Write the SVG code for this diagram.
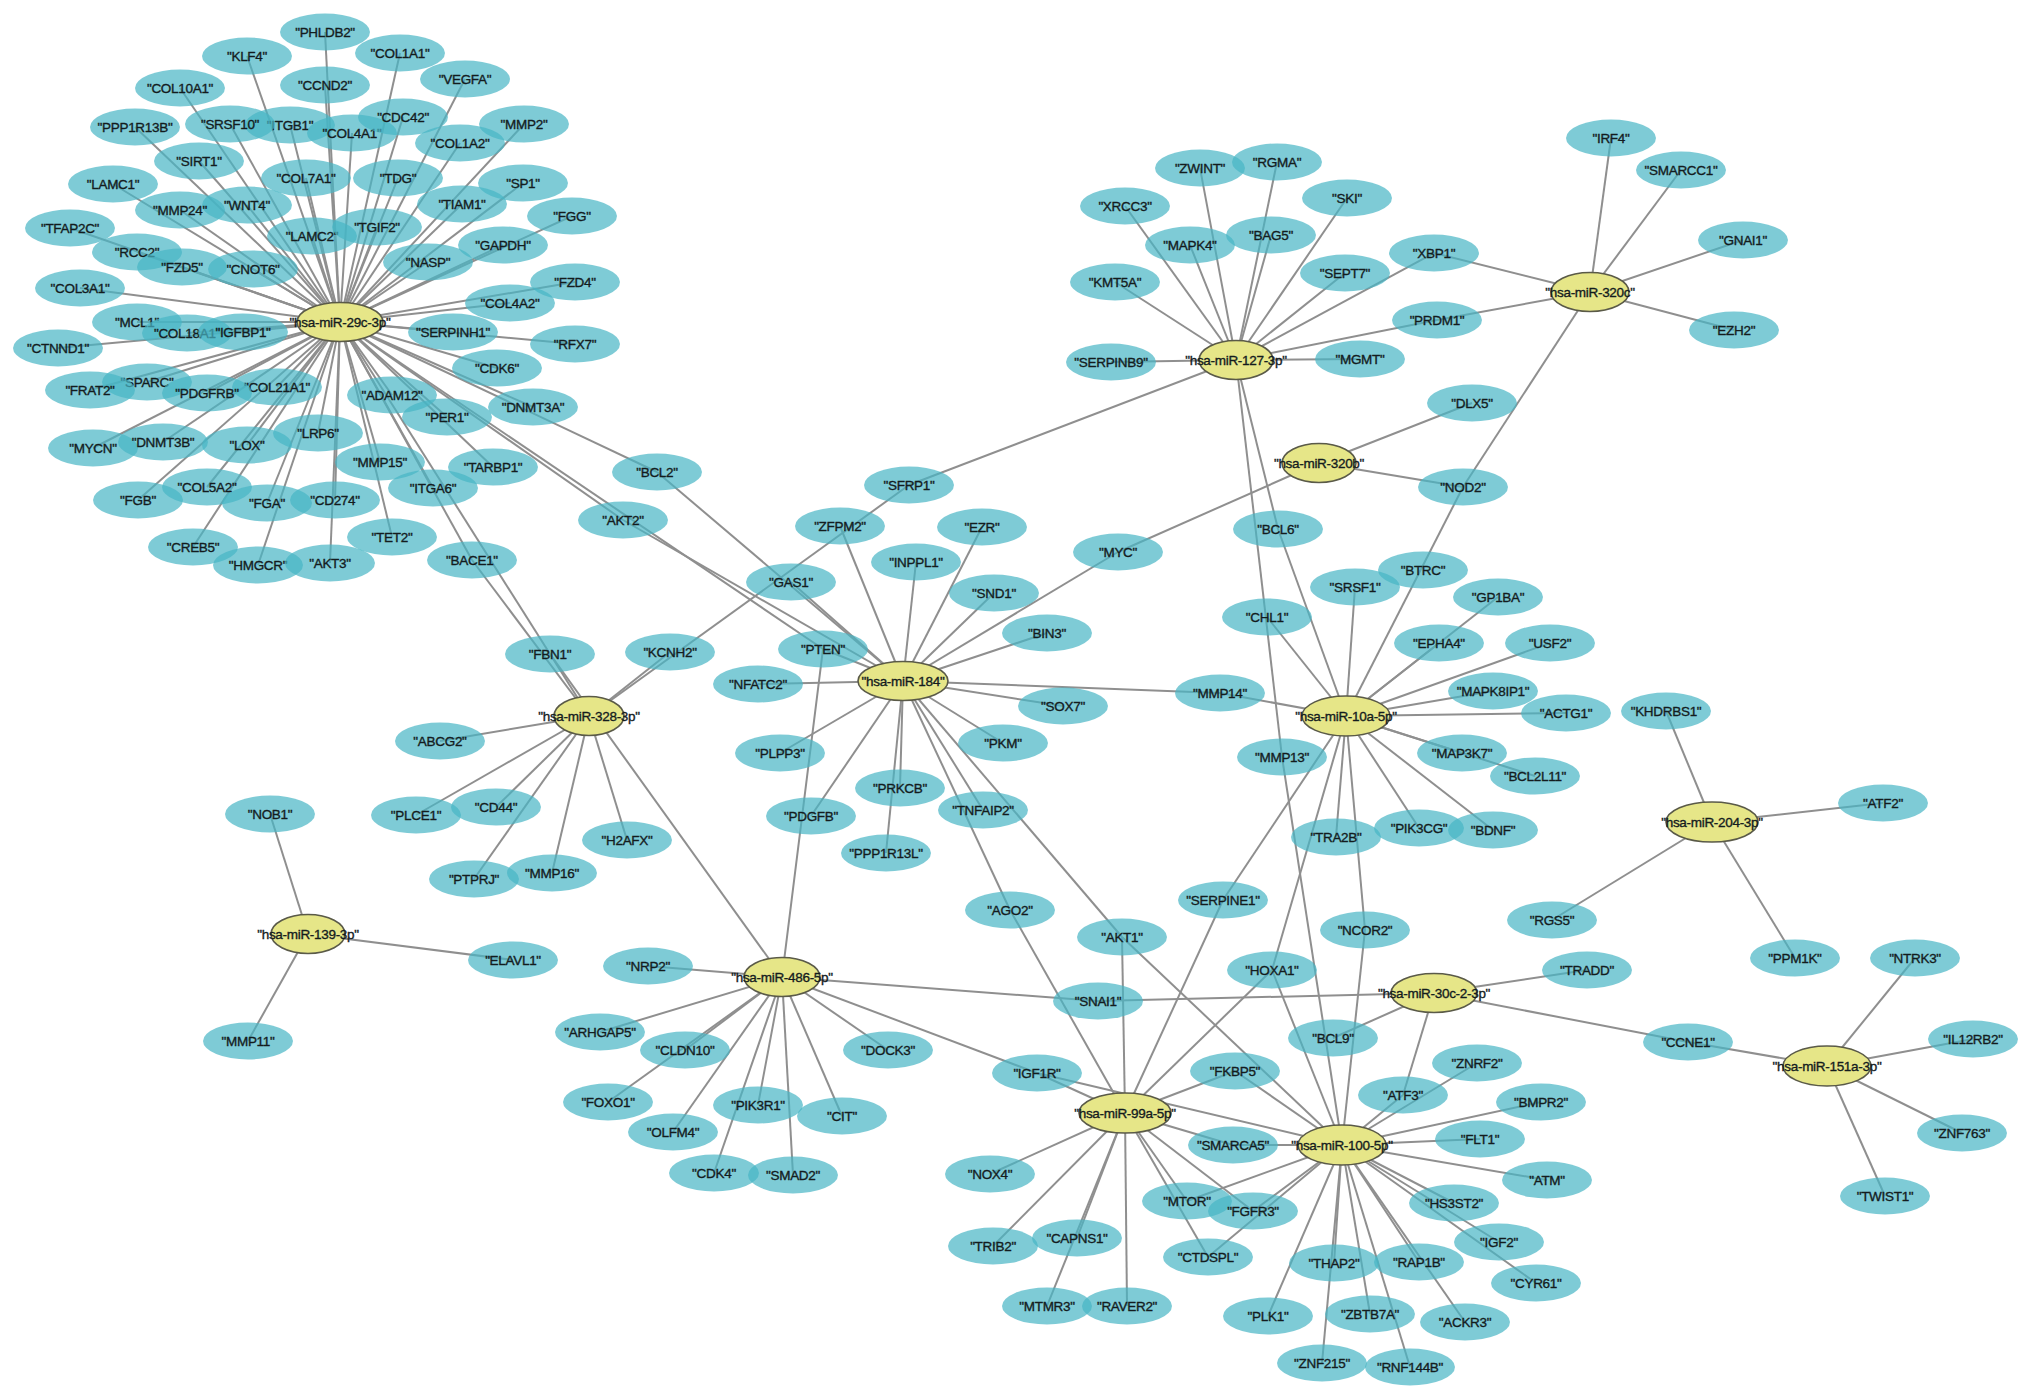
<svg xmlns="http://www.w3.org/2000/svg" width="2032" height="1400" viewBox="0 0 2032 1400">
<style>
.e line{stroke:#8f8f8f;stroke-width:2}
.g ellipse{fill:#47B5C4;fill-opacity:0.7}
.m ellipse{fill:#E6E688;stroke:#5a5a48;stroke-width:1.6}
text{font-family:"Liberation Sans",Arial,sans-serif;font-size:13.5px;fill:#141c1e;stroke:#141c1e;stroke-width:0.35;text-anchor:middle;letter-spacing:-0.3px}
</style>
<rect width="2032" height="1400" fill="#fff"/>
<g id="edges" class="e">
<!-- miR-29c-3p -->
<line x1="340" y1="322" x2="325" y2="32"/><line x1="340" y1="322" x2="247" y2="56"/><line x1="340" y1="322" x2="400" y2="53"/><line x1="340" y1="322" x2="465" y2="79"/><line x1="340" y1="322" x2="325" y2="85"/><line x1="340" y1="322" x2="180" y2="88"/><line x1="340" y1="322" x2="135" y2="127"/><line x1="340" y1="322" x2="230" y2="124"/><line x1="340" y1="322" x2="290" y2="125"/><line x1="340" y1="322" x2="352" y2="133"/><line x1="340" y1="322" x2="403" y2="117"/><line x1="340" y1="322" x2="524" y2="124"/><line x1="340" y1="322" x2="460" y2="143"/><line x1="340" y1="322" x2="199" y2="161"/><line x1="340" y1="322" x2="113" y2="184"/><line x1="340" y1="322" x2="306" y2="178"/><line x1="340" y1="322" x2="398" y2="178"/><line x1="340" y1="322" x2="523" y2="183"/><line x1="340" y1="322" x2="180" y2="210"/><line x1="340" y1="322" x2="247" y2="205"/><line x1="340" y1="322" x2="462" y2="204"/><line x1="340" y1="322" x2="572" y2="216"/><line x1="340" y1="322" x2="70" y2="228"/><line x1="340" y1="322" x2="312" y2="236"/><line x1="340" y1="322" x2="377" y2="227"/><line x1="340" y1="322" x2="503" y2="245"/><line x1="340" y1="322" x2="137" y2="252"/><line x1="340" y1="322" x2="182" y2="267"/><line x1="340" y1="322" x2="253" y2="269"/><line x1="340" y1="322" x2="428" y2="262"/><line x1="340" y1="322" x2="575" y2="282"/><line x1="340" y1="322" x2="80" y2="288"/><line x1="340" y1="322" x2="510" y2="303"/><line x1="340" y1="322" x2="137" y2="322"/><line x1="340" y1="322" x2="187" y2="333"/><line x1="340" y1="322" x2="243" y2="332"/><line x1="340" y1="322" x2="453" y2="332"/><line x1="340" y1="322" x2="58" y2="348"/><line x1="340" y1="322" x2="575" y2="344"/><line x1="340" y1="322" x2="497" y2="368"/><line x1="340" y1="322" x2="90" y2="390"/><line x1="340" y1="322" x2="147" y2="382"/><line x1="340" y1="322" x2="207" y2="393"/><line x1="340" y1="322" x2="277" y2="387"/><line x1="340" y1="322" x2="392" y2="395"/><line x1="340" y1="322" x2="533" y2="407"/><line x1="340" y1="322" x2="447" y2="417"/><line x1="340" y1="322" x2="318" y2="433"/><line x1="340" y1="322" x2="93" y2="448"/><line x1="340" y1="322" x2="163" y2="442"/><line x1="340" y1="322" x2="247" y2="445"/><line x1="340" y1="322" x2="380" y2="462"/><line x1="340" y1="322" x2="493" y2="467"/><line x1="340" y1="322" x2="433" y2="488"/><line x1="340" y1="322" x2="335" y2="500"/><line x1="340" y1="322" x2="207" y2="487"/><line x1="340" y1="322" x2="138" y2="500"/><line x1="340" y1="322" x2="267" y2="503"/><line x1="340" y1="322" x2="392" y2="537"/><line x1="340" y1="322" x2="193" y2="547"/><line x1="340" y1="322" x2="258" y2="565"/><line x1="340" y1="322" x2="330" y2="563"/><line x1="340" y1="322" x2="472" y2="560"/><line x1="340" y1="322" x2="657" y2="472"/><line x1="340" y1="322" x2="623" y2="520"/><line x1="340" y1="322" x2="823" y2="649"/><line x1="340" y1="322" x2="550" y2="654"/>
<!-- miR-184 -->
<line x1="903" y1="681" x2="840" y2="526"/><line x1="903" y1="681" x2="982" y2="527"/><line x1="903" y1="681" x2="916" y2="562"/><line x1="903" y1="681" x2="994" y2="593"/><line x1="903" y1="681" x2="1118" y2="552"/><line x1="903" y1="681" x2="1047" y2="633"/><line x1="903" y1="681" x2="823" y2="649"/><line x1="903" y1="681" x2="758" y2="684"/><line x1="903" y1="681" x2="1063" y2="706"/><line x1="903" y1="681" x2="1003" y2="743"/><line x1="903" y1="681" x2="780" y2="753"/><line x1="903" y1="681" x2="900" y2="788"/><line x1="903" y1="681" x2="983" y2="810"/><line x1="903" y1="681" x2="811" y2="816"/><line x1="903" y1="681" x2="886" y2="853"/><line x1="903" y1="681" x2="657" y2="472"/><line x1="903" y1="681" x2="623" y2="520"/><line x1="903" y1="681" x2="1220" y2="693"/><line x1="903" y1="681" x2="1010" y2="910"/><line x1="903" y1="681" x2="1122" y2="937"/><line x1="903" y1="681" x2="791" y2="582"/>
<!-- miR-127-3p -->
<line x1="1236" y1="360" x2="1200" y2="168"/><line x1="1236" y1="360" x2="1277" y2="162"/><line x1="1236" y1="360" x2="1125" y2="206"/><line x1="1236" y1="360" x2="1347" y2="198"/><line x1="1236" y1="360" x2="1190" y2="245"/><line x1="1236" y1="360" x2="1271" y2="235"/><line x1="1236" y1="360" x2="1434" y2="253"/><line x1="1236" y1="360" x2="1345" y2="273"/><line x1="1236" y1="360" x2="1115" y2="282"/><line x1="1236" y1="360" x2="1437" y2="320"/><line x1="1236" y1="360" x2="1111" y2="362"/><line x1="1236" y1="360" x2="1360" y2="359"/><line x1="1236" y1="360" x2="909" y2="485"/><line x1="1236" y1="360" x2="1278" y2="529"/><line x1="1236" y1="360" x2="1282" y2="757"/>
<!-- miR-320c -->
<line x1="1590" y1="292" x2="1611" y2="138"/><line x1="1590" y1="292" x2="1681" y2="170"/><line x1="1590" y1="292" x2="1743" y2="240"/><line x1="1590" y1="292" x2="1734" y2="330"/><line x1="1590" y1="292" x2="1434" y2="253"/><line x1="1590" y1="292" x2="1437" y2="320"/><line x1="1590" y1="292" x2="1463" y2="487"/>
<!-- miR-320b -->
<line x1="1319" y1="463" x2="1472" y2="403"/><line x1="1319" y1="463" x2="1463" y2="487"/><line x1="1319" y1="463" x2="1118" y2="552"/>
<!-- miR-10a-5p -->
<line x1="1346" y1="716" x2="1278" y2="529"/><line x1="1346" y1="716" x2="1463" y2="487"/><line x1="1346" y1="716" x2="1355" y2="587"/><line x1="1346" y1="716" x2="1267" y2="617"/><line x1="1346" y1="716" x2="1498" y2="597"/><line x1="1346" y1="716" x2="1439" y2="643"/><line x1="1346" y1="716" x2="1550" y2="643"/><line x1="1346" y1="716" x2="1493" y2="691"/><line x1="1346" y1="716" x2="1566" y2="713"/><line x1="1346" y1="716" x2="1462" y2="753"/><line x1="1346" y1="716" x2="1535" y2="776"/><line x1="1346" y1="716" x2="1493" y2="830"/><line x1="1346" y1="716" x2="1419" y2="828"/><line x1="1346" y1="716" x2="1336" y2="837"/><line x1="1346" y1="716" x2="1365" y2="930"/><line x1="1346" y1="716" x2="1223" y2="900"/><line x1="1346" y1="716" x2="1272" y2="970"/><line x1="1346" y1="716" x2="1220" y2="693"/>
<!-- miR-328-3p -->
<line x1="589" y1="716" x2="670" y2="652"/><line x1="589" y1="716" x2="909" y2="485"/><line x1="589" y1="716" x2="440" y2="741"/><line x1="589" y1="716" x2="416" y2="815"/><line x1="589" y1="716" x2="496" y2="807"/><line x1="589" y1="716" x2="474" y2="879"/><line x1="589" y1="716" x2="552" y2="873"/><line x1="589" y1="716" x2="627" y2="840"/><line x1="589" y1="716" x2="472" y2="560"/><line x1="589" y1="716" x2="550" y2="654"/>
<!-- miR-139-3p -->
<line x1="308" y1="934" x2="270" y2="814"/><line x1="308" y1="934" x2="513" y2="960"/><line x1="308" y1="934" x2="248" y2="1041"/>
<!-- miR-486-5p -->
<line x1="782" y1="977" x2="550" y2="654"/><line x1="782" y1="977" x2="823" y2="649"/><line x1="782" y1="977" x2="648" y2="966"/><line x1="782" y1="977" x2="600" y2="1032"/><line x1="782" y1="977" x2="685" y2="1050"/><line x1="782" y1="977" x2="608" y2="1102"/><line x1="782" y1="977" x2="673" y2="1132"/><line x1="782" y1="977" x2="758" y2="1105"/><line x1="782" y1="977" x2="714" y2="1173"/><line x1="782" y1="977" x2="793" y2="1175"/><line x1="782" y1="977" x2="842" y2="1116"/><line x1="782" y1="977" x2="888" y2="1050"/><line x1="782" y1="977" x2="1037" y2="1073"/><line x1="782" y1="977" x2="1098" y2="1001"/>
<!-- miR-99a-5p -->
<line x1="1125" y1="1113" x2="1010" y2="910"/><line x1="1125" y1="1113" x2="1122" y2="937"/><line x1="1125" y1="1113" x2="1223" y2="900"/><line x1="1125" y1="1113" x2="1272" y2="970"/><line x1="1125" y1="1113" x2="1037" y2="1073"/><line x1="1125" y1="1113" x2="1235" y2="1071"/><line x1="1125" y1="1113" x2="1233" y2="1145"/><line x1="1125" y1="1113" x2="990" y2="1174"/><line x1="1125" y1="1113" x2="993" y2="1246"/><line x1="1125" y1="1113" x2="1077" y2="1238"/><line x1="1125" y1="1113" x2="1047" y2="1306"/><line x1="1125" y1="1113" x2="1127" y2="1306"/><line x1="1125" y1="1113" x2="1187" y2="1201"/><line x1="1125" y1="1113" x2="1208" y2="1257"/><line x1="1125" y1="1113" x2="1253" y2="1211"/>
<!-- miR-100-5p -->
<line x1="1342" y1="1145" x2="1122" y2="937"/><line x1="1342" y1="1145" x2="1282" y2="757"/><line x1="1342" y1="1145" x2="1272" y2="970"/><line x1="1342" y1="1145" x2="1365" y2="930"/><line x1="1342" y1="1145" x2="1037" y2="1073"/><line x1="1342" y1="1145" x2="1235" y2="1071"/><line x1="1342" y1="1145" x2="1233" y2="1145"/><line x1="1342" y1="1145" x2="1187" y2="1201"/><line x1="1342" y1="1145" x2="1253" y2="1211"/><line x1="1342" y1="1145" x2="1208" y2="1257"/><line x1="1342" y1="1145" x2="1268" y2="1316"/><line x1="1342" y1="1145" x2="1334" y2="1263"/><line x1="1342" y1="1145" x2="1322" y2="1363"/><line x1="1342" y1="1145" x2="1370" y2="1314"/><line x1="1342" y1="1145" x2="1410" y2="1367"/><line x1="1342" y1="1145" x2="1419" y2="1262"/><line x1="1342" y1="1145" x2="1465" y2="1322"/><line x1="1342" y1="1145" x2="1536" y2="1283"/><line x1="1342" y1="1145" x2="1499" y2="1242"/><line x1="1342" y1="1145" x2="1454" y2="1203"/><line x1="1342" y1="1145" x2="1547" y2="1180"/><line x1="1342" y1="1145" x2="1480" y2="1139"/><line x1="1342" y1="1145" x2="1541" y2="1102"/><line x1="1342" y1="1145" x2="1403" y2="1095"/><line x1="1342" y1="1145" x2="1477" y2="1063"/>
<!-- miR-30c-2-3p -->
<line x1="1434" y1="993" x2="1098" y2="1001"/><line x1="1434" y1="993" x2="1333" y2="1038"/><line x1="1434" y1="993" x2="1403" y2="1095"/><line x1="1434" y1="993" x2="1587" y2="970"/><line x1="1434" y1="993" x2="1688" y2="1042"/>
<!-- miR-204-3p -->
<line x1="1712" y1="822" x2="1666" y2="711"/><line x1="1712" y1="822" x2="1883" y2="803"/><line x1="1712" y1="822" x2="1552" y2="920"/><line x1="1712" y1="822" x2="1795" y2="958"/>
<!-- miR-151a-3p -->
<line x1="1827" y1="1066" x2="1688" y2="1042"/><line x1="1827" y1="1066" x2="1915" y2="958"/><line x1="1827" y1="1066" x2="1973" y2="1039"/><line x1="1827" y1="1066" x2="1962" y2="1133"/><line x1="1827" y1="1066" x2="1885" y2="1196"/>
</g>
<g id="genes" class="g">
<g id="PHLDB2"><ellipse cx="325" cy="32" rx="45" ry="18.5"/><text x="325" y="37">"PHLDB2"</text></g>
<g id="KLF4"><ellipse cx="247" cy="56" rx="45" ry="18.5"/><text x="247" y="61">"KLF4"</text></g>
<g id="COL1A1"><ellipse cx="400" cy="53" rx="45" ry="18.5"/><text x="400" y="58">"COL1A1"</text></g>
<g id="VEGFA"><ellipse cx="465" cy="79" rx="45" ry="18.5"/><text x="465" y="84">"VEGFA"</text></g>
<g id="CCND2"><ellipse cx="325" cy="85" rx="45" ry="18.5"/><text x="325" y="90">"CCND2"</text></g>
<g id="COL10A1"><ellipse cx="180" cy="88" rx="45" ry="18.5"/><text x="180" y="93">"COL10A1"</text></g>
<g id="PPP1R13B"><ellipse cx="135" cy="127" rx="45" ry="18.5"/><text x="135" y="132">"PPP1R13B"</text></g>
<g id="ITGB1"><ellipse cx="290" cy="125" rx="45" ry="18.5"/><text x="290" y="130">"ITGB1"</text></g>
<g id="SRSF10"><ellipse cx="230" cy="124" rx="45" ry="18.5"/><text x="230" y="129">"SRSF10"</text></g>
<g id="COL4A1"><ellipse cx="352" cy="133" rx="45" ry="18.5"/><text x="352" y="138">"COL4A1"</text></g>
<g id="CDC42"><ellipse cx="403" cy="117" rx="45" ry="18.5"/><text x="403" y="122">"CDC42"</text></g>
<g id="MMP2"><ellipse cx="524" cy="124" rx="45" ry="18.5"/><text x="524" y="129">"MMP2"</text></g>
<g id="COL1A2"><ellipse cx="460" cy="143" rx="45" ry="18.5"/><text x="460" y="148">"COL1A2"</text></g>
<g id="SIRT1"><ellipse cx="199" cy="161" rx="45" ry="18.5"/><text x="199" y="166">"SIRT1"</text></g>
<g id="LAMC1"><ellipse cx="113" cy="184" rx="45" ry="18.5"/><text x="113" y="189">"LAMC1"</text></g>
<g id="COL7A1"><ellipse cx="306" cy="178" rx="45" ry="18.5"/><text x="306" y="183">"COL7A1"</text></g>
<g id="TDG"><ellipse cx="398" cy="178" rx="45" ry="18.5"/><text x="398" y="183">"TDG"</text></g>
<g id="SP1"><ellipse cx="523" cy="183" rx="45" ry="18.5"/><text x="523" y="188">"SP1"</text></g>
<g id="WNT4"><ellipse cx="247" cy="205" rx="45" ry="18.5"/><text x="247" y="210">"WNT4"</text></g>
<g id="MMP24"><ellipse cx="180" cy="210" rx="45" ry="18.5"/><text x="180" y="215">"MMP24"</text></g>
<g id="TIAM1"><ellipse cx="462" cy="204" rx="45" ry="18.5"/><text x="462" y="209">"TIAM1"</text></g>
<g id="FGG"><ellipse cx="572" cy="216" rx="45" ry="18.5"/><text x="572" y="221">"FGG"</text></g>
<g id="TFAP2C"><ellipse cx="70" cy="228" rx="45" ry="18.5"/><text x="70" y="233">"TFAP2C"</text></g>
<g id="LAMC2"><ellipse cx="312" cy="236" rx="45" ry="18.5"/><text x="312" y="241">"LAMC2"</text></g>
<g id="TGIF2"><ellipse cx="377" cy="227" rx="45" ry="18.5"/><text x="377" y="232">"TGIF2"</text></g>
<g id="GAPDH"><ellipse cx="503" cy="245" rx="45" ry="18.5"/><text x="503" y="250">"GAPDH"</text></g>
<g id="RCC2"><ellipse cx="137" cy="252" rx="45" ry="18.5"/><text x="137" y="257">"RCC2"</text></g>
<g id="CNOT6"><ellipse cx="253" cy="269" rx="45" ry="18.5"/><text x="253" y="274">"CNOT6"</text></g>
<g id="FZD5"><ellipse cx="182" cy="267" rx="45" ry="18.5"/><text x="182" y="272">"FZD5"</text></g>
<g id="NASP"><ellipse cx="428" cy="262" rx="45" ry="18.5"/><text x="428" y="267">"NASP"</text></g>
<g id="FZD4"><ellipse cx="575" cy="282" rx="45" ry="18.5"/><text x="575" y="287">"FZD4"</text></g>
<g id="COL3A1"><ellipse cx="80" cy="288" rx="45" ry="18.5"/><text x="80" y="293">"COL3A1"</text></g>
<g id="COL4A2"><ellipse cx="510" cy="303" rx="45" ry="18.5"/><text x="510" y="308">"COL4A2"</text></g>
<g id="MCL1"><ellipse cx="137" cy="322" rx="45" ry="18.5"/><text x="137" y="327">"MCL1"</text></g>
<g id="COL18A1"><ellipse cx="187" cy="333" rx="45" ry="18.5"/><text x="187" y="338">"COL18A1"</text></g>
<g id="IGFBP1"><ellipse cx="243" cy="332" rx="45" ry="18.5"/><text x="243" y="337">"IGFBP1"</text></g>
<g id="SERPINH1"><ellipse cx="453" cy="332" rx="45" ry="18.5"/><text x="453" y="337">"SERPINH1"</text></g>
<g id="CTNND1"><ellipse cx="58" cy="348" rx="45" ry="18.5"/><text x="58" y="353">"CTNND1"</text></g>
<g id="RFX7"><ellipse cx="575" cy="344" rx="45" ry="18.5"/><text x="575" y="349">"RFX7"</text></g>
<g id="CDK6"><ellipse cx="497" cy="368" rx="45" ry="18.5"/><text x="497" y="373">"CDK6"</text></g>
<g id="SPARC"><ellipse cx="147" cy="382" rx="45" ry="18.5"/><text x="147" y="387">"SPARC"</text></g>
<g id="FRAT2"><ellipse cx="90" cy="390" rx="45" ry="18.5"/><text x="90" y="395">"FRAT2"</text></g>
<g id="COL21A1"><ellipse cx="277" cy="387" rx="45" ry="18.5"/><text x="277" y="392">"COL21A1"</text></g>
<g id="PDGFRB"><ellipse cx="207" cy="393" rx="45" ry="18.5"/><text x="207" y="398">"PDGFRB"</text></g>
<g id="ADAM12"><ellipse cx="392" cy="395" rx="45" ry="18.5"/><text x="392" y="400">"ADAM12"</text></g>
<g id="DNMT3A"><ellipse cx="533" cy="407" rx="45" ry="18.5"/><text x="533" y="412">"DNMT3A"</text></g>
<g id="PER1"><ellipse cx="447" cy="417" rx="45" ry="18.5"/><text x="447" y="422">"PER1"</text></g>
<g id="LRP6"><ellipse cx="318" cy="433" rx="45" ry="18.5"/><text x="318" y="438">"LRP6"</text></g>
<g id="MYCN"><ellipse cx="93" cy="448" rx="45" ry="18.5"/><text x="93" y="453">"MYCN"</text></g>
<g id="DNMT3B"><ellipse cx="163" cy="442" rx="45" ry="18.5"/><text x="163" y="447">"DNMT3B"</text></g>
<g id="LOX"><ellipse cx="247" cy="445" rx="45" ry="18.5"/><text x="247" y="450">"LOX"</text></g>
<g id="MMP15"><ellipse cx="380" cy="462" rx="45" ry="18.5"/><text x="380" y="467">"MMP15"</text></g>
<g id="TARBP1"><ellipse cx="493" cy="467" rx="45" ry="18.5"/><text x="493" y="472">"TARBP1"</text></g>
<g id="ITGA6"><ellipse cx="433" cy="488" rx="45" ry="18.5"/><text x="433" y="493">"ITGA6"</text></g>
<g id="COL5A2"><ellipse cx="207" cy="487" rx="45" ry="18.5"/><text x="207" y="492">"COL5A2"</text></g>
<g id="FGB"><ellipse cx="138" cy="500" rx="45" ry="18.5"/><text x="138" y="505">"FGB"</text></g>
<g id="CD274"><ellipse cx="335" cy="500" rx="45" ry="18.5"/><text x="335" y="505">"CD274"</text></g>
<g id="FGA"><ellipse cx="267" cy="503" rx="45" ry="18.5"/><text x="267" y="508">"FGA"</text></g>
<g id="TET2"><ellipse cx="392" cy="537" rx="45" ry="18.5"/><text x="392" y="542">"TET2"</text></g>
<g id="CREB5"><ellipse cx="193" cy="547" rx="45" ry="18.5"/><text x="193" y="552">"CREB5"</text></g>
<g id="HMGCR"><ellipse cx="258" cy="565" rx="45" ry="18.5"/><text x="258" y="570">"HMGCR"</text></g>
<g id="AKT3"><ellipse cx="330" cy="563" rx="45" ry="18.5"/><text x="330" y="568">"AKT3"</text></g>
<g id="BACE1"><ellipse cx="472" cy="560" rx="45" ry="18.5"/><text x="472" y="565">"BACE1"</text></g>
<g id="BCL2"><ellipse cx="657" cy="472" rx="45" ry="18.5"/><text x="657" y="477">"BCL2"</text></g>
<g id="AKT2"><ellipse cx="623" cy="520" rx="45" ry="18.5"/><text x="623" y="525">"AKT2"</text></g>
<g id="SFRP1"><ellipse cx="909" cy="485" rx="45" ry="18.5"/><text x="909" y="490">"SFRP1"</text></g>
<g id="ZFPM2"><ellipse cx="840" cy="526" rx="45" ry="18.5"/><text x="840" y="531">"ZFPM2"</text></g>
<g id="EZR"><ellipse cx="982" cy="527" rx="45" ry="18.5"/><text x="982" y="532">"EZR"</text></g>
<g id="INPPL1"><ellipse cx="916" cy="562" rx="45" ry="18.5"/><text x="916" y="567">"INPPL1"</text></g>
<g id="GAS1"><ellipse cx="791" cy="582" rx="45" ry="18.5"/><text x="791" y="587">"GAS1"</text></g>
<g id="SND1"><ellipse cx="994" cy="593" rx="45" ry="18.5"/><text x="994" y="598">"SND1"</text></g>
<g id="MYC"><ellipse cx="1118" cy="552" rx="45" ry="18.5"/><text x="1118" y="557">"MYC"</text></g>
<g id="BIN3"><ellipse cx="1047" cy="633" rx="45" ry="18.5"/><text x="1047" y="638">"BIN3"</text></g>
<g id="PTEN"><ellipse cx="823" cy="649" rx="45" ry="18.5"/><text x="823" y="654">"PTEN"</text></g>
<g id="KCNH2"><ellipse cx="670" cy="652" rx="45" ry="18.5"/><text x="670" y="657">"KCNH2"</text></g>
<g id="FBN1"><ellipse cx="550" cy="654" rx="45" ry="18.5"/><text x="550" y="659">"FBN1"</text></g>
<g id="NFATC2"><ellipse cx="758" cy="684" rx="45" ry="18.5"/><text x="758" y="689">"NFATC2"</text></g>
<g id="SOX7"><ellipse cx="1063" cy="706" rx="45" ry="18.5"/><text x="1063" y="711">"SOX7"</text></g>
<g id="PKM"><ellipse cx="1003" cy="743" rx="45" ry="18.5"/><text x="1003" y="748">"PKM"</text></g>
<g id="PLPP3"><ellipse cx="780" cy="753" rx="45" ry="18.5"/><text x="780" y="758">"PLPP3"</text></g>
<g id="PRKCB"><ellipse cx="900" cy="788" rx="45" ry="18.5"/><text x="900" y="793">"PRKCB"</text></g>
<g id="TNFAIP2"><ellipse cx="983" cy="810" rx="45" ry="18.5"/><text x="983" y="815">"TNFAIP2"</text></g>
<g id="PDGFB"><ellipse cx="811" cy="816" rx="45" ry="18.5"/><text x="811" y="821">"PDGFB"</text></g>
<g id="PPP1R13L"><ellipse cx="886" cy="853" rx="45" ry="18.5"/><text x="886" y="858">"PPP1R13L"</text></g>
<g id="ABCG2"><ellipse cx="440" cy="741" rx="45" ry="18.5"/><text x="440" y="746">"ABCG2"</text></g>
<g id="PLCE1"><ellipse cx="416" cy="815" rx="45" ry="18.5"/><text x="416" y="820">"PLCE1"</text></g>
<g id="CD44"><ellipse cx="496" cy="807" rx="45" ry="18.5"/><text x="496" y="812">"CD44"</text></g>
<g id="H2AFX"><ellipse cx="627" cy="840" rx="45" ry="18.5"/><text x="627" y="845">"H2AFX"</text></g>
<g id="PTPRJ"><ellipse cx="474" cy="879" rx="45" ry="18.5"/><text x="474" y="884">"PTPRJ"</text></g>
<g id="MMP16"><ellipse cx="552" cy="873" rx="45" ry="18.5"/><text x="552" y="878">"MMP16"</text></g>
<g id="NOB1"><ellipse cx="270" cy="814" rx="45" ry="18.5"/><text x="270" y="819">"NOB1"</text></g>
<g id="ELAVL1"><ellipse cx="513" cy="960" rx="45" ry="18.5"/><text x="513" y="965">"ELAVL1"</text></g>
<g id="MMP11"><ellipse cx="248" cy="1041" rx="45" ry="18.5"/><text x="248" y="1046">"MMP11"</text></g>
<g id="NRP2"><ellipse cx="648" cy="966" rx="45" ry="18.5"/><text x="648" y="971">"NRP2"</text></g>
<g id="ARHGAP5"><ellipse cx="600" cy="1032" rx="45" ry="18.5"/><text x="600" y="1037">"ARHGAP5"</text></g>
<g id="CLDN10"><ellipse cx="685" cy="1050" rx="45" ry="18.5"/><text x="685" y="1055">"CLDN10"</text></g>
<g id="DOCK3"><ellipse cx="888" cy="1050" rx="45" ry="18.5"/><text x="888" y="1055">"DOCK3"</text></g>
<g id="FOXO1"><ellipse cx="608" cy="1102" rx="45" ry="18.5"/><text x="608" y="1107">"FOXO1"</text></g>
<g id="PIK3R1"><ellipse cx="758" cy="1105" rx="45" ry="18.5"/><text x="758" y="1110">"PIK3R1"</text></g>
<g id="CIT"><ellipse cx="842" cy="1116" rx="45" ry="18.5"/><text x="842" y="1121">"CIT"</text></g>
<g id="OLFM4"><ellipse cx="673" cy="1132" rx="45" ry="18.5"/><text x="673" y="1137">"OLFM4"</text></g>
<g id="CDK4"><ellipse cx="714" cy="1173" rx="45" ry="18.5"/><text x="714" y="1178">"CDK4"</text></g>
<g id="SMAD2"><ellipse cx="793" cy="1175" rx="45" ry="18.5"/><text x="793" y="1180">"SMAD2"</text></g>
<g id="AGO2"><ellipse cx="1010" cy="910" rx="45" ry="18.5"/><text x="1010" y="915">"AGO2"</text></g>
<g id="AKT1"><ellipse cx="1122" cy="937" rx="45" ry="18.5"/><text x="1122" y="942">"AKT1"</text></g>
<g id="SNAI1"><ellipse cx="1098" cy="1001" rx="45" ry="18.5"/><text x="1098" y="1006">"SNAI1"</text></g>
<g id="IGF1R"><ellipse cx="1037" cy="1073" rx="45" ry="18.5"/><text x="1037" y="1078">"IGF1R"</text></g>
<g id="SERPINE1"><ellipse cx="1223" cy="900" rx="45" ry="18.5"/><text x="1223" y="905">"SERPINE1"</text></g>
<g id="HOXA1"><ellipse cx="1272" cy="970" rx="45" ry="18.5"/><text x="1272" y="975">"HOXA1"</text></g>
<g id="NCOR2"><ellipse cx="1365" cy="930" rx="45" ry="18.5"/><text x="1365" y="935">"NCOR2"</text></g>
<g id="BCL9"><ellipse cx="1333" cy="1038" rx="45" ry="18.5"/><text x="1333" y="1043">"BCL9"</text></g>
<g id="FKBP5"><ellipse cx="1235" cy="1071" rx="45" ry="18.5"/><text x="1235" y="1076">"FKBP5"</text></g>
<g id="SMARCA5"><ellipse cx="1233" cy="1145" rx="45" ry="18.5"/><text x="1233" y="1150">"SMARCA5"</text></g>
<g id="NOX4"><ellipse cx="990" cy="1174" rx="45" ry="18.5"/><text x="990" y="1179">"NOX4"</text></g>
<g id="MTOR"><ellipse cx="1187" cy="1201" rx="45" ry="18.5"/><text x="1187" y="1206">"MTOR"</text></g>
<g id="FGFR3"><ellipse cx="1253" cy="1211" rx="45" ry="18.5"/><text x="1253" y="1216">"FGFR3"</text></g>
<g id="TRIB2"><ellipse cx="993" cy="1246" rx="45" ry="18.5"/><text x="993" y="1251">"TRIB2"</text></g>
<g id="CAPNS1"><ellipse cx="1077" cy="1238" rx="45" ry="18.5"/><text x="1077" y="1243">"CAPNS1"</text></g>
<g id="CTDSPL"><ellipse cx="1208" cy="1257" rx="45" ry="18.5"/><text x="1208" y="1262">"CTDSPL"</text></g>
<g id="MTMR3"><ellipse cx="1047" cy="1306" rx="45" ry="18.5"/><text x="1047" y="1311">"MTMR3"</text></g>
<g id="RAVER2"><ellipse cx="1127" cy="1306" rx="45" ry="18.5"/><text x="1127" y="1311">"RAVER2"</text></g>
<g id="THAP2"><ellipse cx="1334" cy="1263" rx="45" ry="18.5"/><text x="1334" y="1268">"THAP2"</text></g>
<g id="PLK1"><ellipse cx="1268" cy="1316" rx="45" ry="18.5"/><text x="1268" y="1321">"PLK1"</text></g>
<g id="ZBTB7A"><ellipse cx="1370" cy="1314" rx="45" ry="18.5"/><text x="1370" y="1319">"ZBTB7A"</text></g>
<g id="ZNF215"><ellipse cx="1322" cy="1363" rx="45" ry="18.5"/><text x="1322" y="1368">"ZNF215"</text></g>
<g id="RNF144B"><ellipse cx="1410" cy="1367" rx="45" ry="18.5"/><text x="1410" y="1372">"RNF144B"</text></g>
<g id="RAP1B"><ellipse cx="1419" cy="1262" rx="45" ry="18.5"/><text x="1419" y="1267">"RAP1B"</text></g>
<g id="ACKR3"><ellipse cx="1465" cy="1322" rx="45" ry="18.5"/><text x="1465" y="1327">"ACKR3"</text></g>
<g id="CYR61"><ellipse cx="1536" cy="1283" rx="45" ry="18.5"/><text x="1536" y="1288">"CYR61"</text></g>
<g id="IGF2"><ellipse cx="1499" cy="1242" rx="45" ry="18.5"/><text x="1499" y="1247">"IGF2"</text></g>
<g id="HS3ST2"><ellipse cx="1454" cy="1203" rx="45" ry="18.5"/><text x="1454" y="1208">"HS3ST2"</text></g>
<g id="ATM"><ellipse cx="1547" cy="1180" rx="45" ry="18.5"/><text x="1547" y="1185">"ATM"</text></g>
<g id="FLT1"><ellipse cx="1480" cy="1139" rx="45" ry="18.5"/><text x="1480" y="1144">"FLT1"</text></g>
<g id="BMPR2"><ellipse cx="1541" cy="1102" rx="45" ry="18.5"/><text x="1541" y="1107">"BMPR2"</text></g>
<g id="ATF3"><ellipse cx="1403" cy="1095" rx="45" ry="18.5"/><text x="1403" y="1100">"ATF3"</text></g>
<g id="ZNRF2"><ellipse cx="1477" cy="1063" rx="45" ry="18.5"/><text x="1477" y="1068">"ZNRF2"</text></g>
<g id="TRADD"><ellipse cx="1587" cy="970" rx="45" ry="18.5"/><text x="1587" y="975">"TRADD"</text></g>
<g id="CCNE1"><ellipse cx="1688" cy="1042" rx="45" ry="18.5"/><text x="1688" y="1047">"CCNE1"</text></g>
<g id="RGS5"><ellipse cx="1552" cy="920" rx="45" ry="18.5"/><text x="1552" y="925">"RGS5"</text></g>
<g id="KHDRBS1"><ellipse cx="1666" cy="711" rx="45" ry="18.5"/><text x="1666" y="716">"KHDRBS1"</text></g>
<g id="ATF2"><ellipse cx="1883" cy="803" rx="45" ry="18.5"/><text x="1883" y="808">"ATF2"</text></g>
<g id="PPM1K"><ellipse cx="1795" cy="958" rx="45" ry="18.5"/><text x="1795" y="963">"PPM1K"</text></g>
<g id="NTRK3"><ellipse cx="1915" cy="958" rx="45" ry="18.5"/><text x="1915" y="963">"NTRK3"</text></g>
<g id="IL12RB2"><ellipse cx="1973" cy="1039" rx="45" ry="18.5"/><text x="1973" y="1044">"IL12RB2"</text></g>
<g id="ZNF763"><ellipse cx="1962" cy="1133" rx="45" ry="18.5"/><text x="1962" y="1138">"ZNF763"</text></g>
<g id="TWIST1"><ellipse cx="1885" cy="1196" rx="45" ry="18.5"/><text x="1885" y="1201">"TWIST1"</text></g>
<g id="BCL6"><ellipse cx="1278" cy="529" rx="45" ry="18.5"/><text x="1278" y="534">"BCL6"</text></g>
<g id="SRSF1"><ellipse cx="1355" cy="587" rx="45" ry="18.5"/><text x="1355" y="592">"SRSF1"</text></g>
<g id="BTRC"><ellipse cx="1423" cy="570" rx="45" ry="18.5"/><text x="1423" y="575">"BTRC"</text></g>
<g id="GP1BA"><ellipse cx="1498" cy="597" rx="45" ry="18.5"/><text x="1498" y="602">"GP1BA"</text></g>
<g id="CHL1"><ellipse cx="1267" cy="617" rx="45" ry="18.5"/><text x="1267" y="622">"CHL1"</text></g>
<g id="EPHA4"><ellipse cx="1439" cy="643" rx="45" ry="18.5"/><text x="1439" y="648">"EPHA4"</text></g>
<g id="USF2"><ellipse cx="1550" cy="643" rx="45" ry="18.5"/><text x="1550" y="648">"USF2"</text></g>
<g id="MMP14"><ellipse cx="1220" cy="693" rx="45" ry="18.5"/><text x="1220" y="698">"MMP14"</text></g>
<g id="MAPK8IP1"><ellipse cx="1493" cy="691" rx="45" ry="18.5"/><text x="1493" y="696">"MAPK8IP1"</text></g>
<g id="ACTG1"><ellipse cx="1566" cy="713" rx="45" ry="18.5"/><text x="1566" y="718">"ACTG1"</text></g>
<g id="MMP13"><ellipse cx="1282" cy="757" rx="45" ry="18.5"/><text x="1282" y="762">"MMP13"</text></g>
<g id="MAP3K7"><ellipse cx="1462" cy="753" rx="45" ry="18.5"/><text x="1462" y="758">"MAP3K7"</text></g>
<g id="BCL2L11"><ellipse cx="1535" cy="776" rx="45" ry="18.5"/><text x="1535" y="781">"BCL2L11"</text></g>
<g id="TRA2B"><ellipse cx="1336" cy="837" rx="45" ry="18.5"/><text x="1336" y="842">"TRA2B"</text></g>
<g id="PIK3CG"><ellipse cx="1419" cy="828" rx="45" ry="18.5"/><text x="1419" y="833">"PIK3CG"</text></g>
<g id="BDNF"><ellipse cx="1493" cy="830" rx="45" ry="18.5"/><text x="1493" y="835">"BDNF"</text></g>
<g id="IRF4"><ellipse cx="1611" cy="138" rx="45" ry="18.5"/><text x="1611" y="143">"IRF4"</text></g>
<g id="SMARCC1"><ellipse cx="1681" cy="170" rx="45" ry="18.5"/><text x="1681" y="175">"SMARCC1"</text></g>
<g id="GNAI1"><ellipse cx="1743" cy="240" rx="45" ry="18.5"/><text x="1743" y="245">"GNAI1"</text></g>
<g id="EZH2"><ellipse cx="1734" cy="330" rx="45" ry="18.5"/><text x="1734" y="335">"EZH2"</text></g>
<g id="ZWINT"><ellipse cx="1200" cy="168" rx="45" ry="18.5"/><text x="1200" y="173">"ZWINT"</text></g>
<g id="RGMA"><ellipse cx="1277" cy="162" rx="45" ry="18.5"/><text x="1277" y="167">"RGMA"</text></g>
<g id="XRCC3"><ellipse cx="1125" cy="206" rx="45" ry="18.5"/><text x="1125" y="211">"XRCC3"</text></g>
<g id="SKI"><ellipse cx="1347" cy="198" rx="45" ry="18.5"/><text x="1347" y="203">"SKI"</text></g>
<g id="MAPK4"><ellipse cx="1190" cy="245" rx="45" ry="18.5"/><text x="1190" y="250">"MAPK4"</text></g>
<g id="BAG5"><ellipse cx="1271" cy="235" rx="45" ry="18.5"/><text x="1271" y="240">"BAG5"</text></g>
<g id="XBP1"><ellipse cx="1434" cy="253" rx="45" ry="18.5"/><text x="1434" y="258">"XBP1"</text></g>
<g id="SEPT7"><ellipse cx="1345" cy="273" rx="45" ry="18.5"/><text x="1345" y="278">"SEPT7"</text></g>
<g id="KMT5A"><ellipse cx="1115" cy="282" rx="45" ry="18.5"/><text x="1115" y="287">"KMT5A"</text></g>
<g id="PRDM1"><ellipse cx="1437" cy="320" rx="45" ry="18.5"/><text x="1437" y="325">"PRDM1"</text></g>
<g id="SERPINB9"><ellipse cx="1111" cy="362" rx="45" ry="18.5"/><text x="1111" y="367">"SERPINB9"</text></g>
<g id="MGMT"><ellipse cx="1360" cy="359" rx="45" ry="18.5"/><text x="1360" y="364">"MGMT"</text></g>
<g id="DLX5"><ellipse cx="1472" cy="403" rx="45" ry="18.5"/><text x="1472" y="408">"DLX5"</text></g>
<g id="NOD2"><ellipse cx="1463" cy="487" rx="45" ry="18.5"/><text x="1463" y="492">"NOD2"</text></g>
</g>
<g id="mirnas" class="m">
<g id="hsa-miR-29c-3p"><ellipse cx="340" cy="322" rx="43" ry="19.5"/><text x="340" y="327">"hsa-miR-29c-3p"</text></g>
<g id="hsa-miR-184"><ellipse cx="903" cy="681" rx="45" ry="19.5"/><text x="903" y="686">"hsa-miR-184"</text></g>
<g id="hsa-miR-127-3p"><ellipse cx="1236" cy="360" rx="37" ry="19.5"/><text x="1236" y="365">"hsa-miR-127-3p"</text></g>
<g id="hsa-miR-320c"><ellipse cx="1590" cy="292" rx="39" ry="19.5"/><text x="1590" y="297">"hsa-miR-320c"</text></g>
<g id="hsa-miR-320b"><ellipse cx="1319" cy="463" rx="37" ry="19.5"/><text x="1319" y="468">"hsa-miR-320b"</text></g>
<g id="hsa-miR-10a-5p"><ellipse cx="1346" cy="716" rx="44" ry="20"/><text x="1346" y="721">"hsa-miR-10a-5p"</text></g>
<g id="hsa-miR-328-3p"><ellipse cx="589" cy="716" rx="35" ry="19.5"/><text x="589" y="721">"hsa-miR-328-3p"</text></g>
<g id="hsa-miR-139-3p"><ellipse cx="308" cy="934" rx="37" ry="19.5"/><text x="308" y="939">"hsa-miR-139-3p"</text></g>
<g id="hsa-miR-486-5p"><ellipse cx="782" cy="977" rx="38" ry="19.5"/><text x="782" y="982">"hsa-miR-486-5p"</text></g>
<g id="hsa-miR-204-3p"><ellipse cx="1712" cy="822" rx="46" ry="20"/><text x="1712" y="827">"hsa-miR-204-3p"</text></g>
<g id="hsa-miR-30c-2-3p"><ellipse cx="1434" cy="993" rx="43" ry="19.5"/><text x="1434" y="998">"hsa-miR-30c-2-3p"</text></g>
<g id="hsa-miR-151a-3p"><ellipse cx="1827" cy="1066" rx="44" ry="20"/><text x="1827" y="1071">"hsa-miR-151a-3p"</text></g>
<g id="hsa-miR-99a-5p"><ellipse cx="1125" cy="1113" rx="46" ry="20"/><text x="1125" y="1118">"hsa-miR-99a-5p"</text></g>
<g id="hsa-miR-100-5p"><ellipse cx="1342" cy="1145" rx="44" ry="20"/><text x="1342" y="1150">"hsa-miR-100-5p"</text></g>
</g>
</svg>
